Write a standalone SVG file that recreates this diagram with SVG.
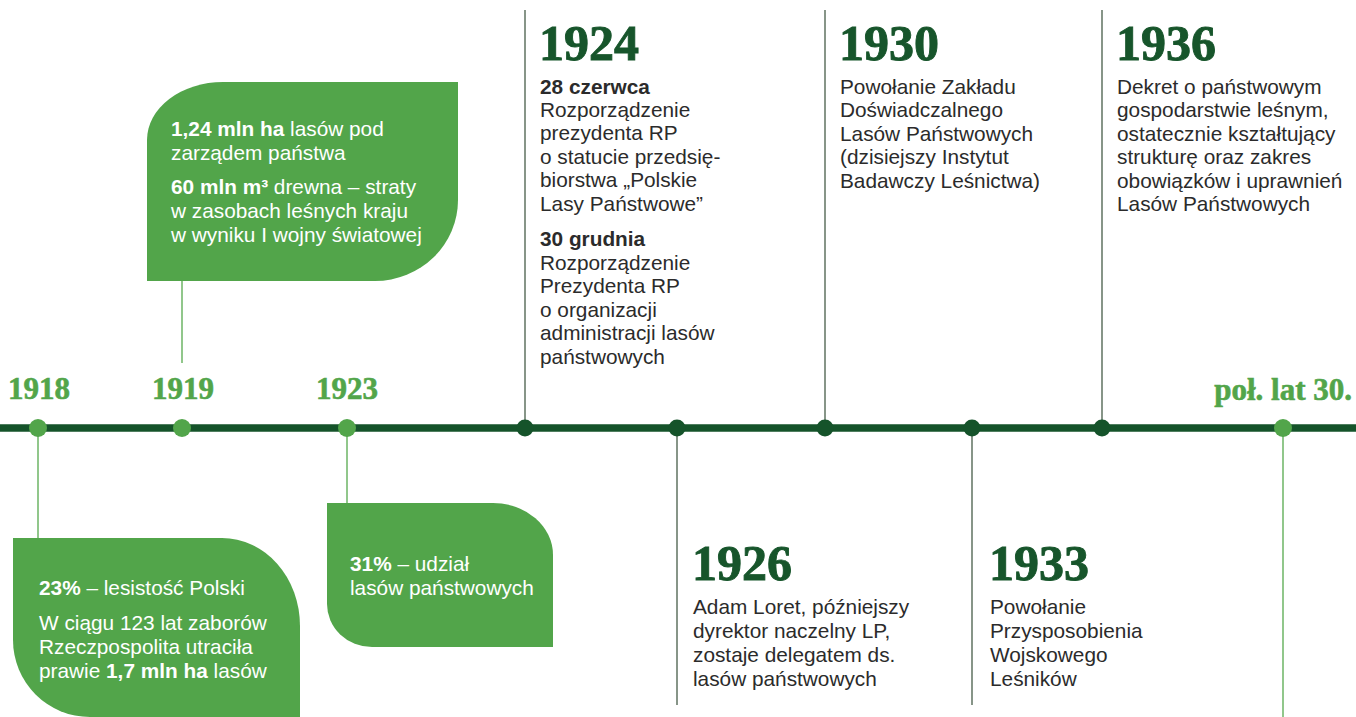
<svg xmlns="http://www.w3.org/2000/svg" width="1356" height="717" viewBox="0 0 1356 717">
<style>
.yr{font-family:"Liberation Serif","DejaVu Serif",serif;font-weight:bold}
.ys{font-size:31px;fill:#52a54a;stroke:#52a54a;stroke-width:0.6}
.yb{font-size:50px;fill:#17552b;stroke:#17552b;stroke-width:0.9}
.t{font-family:"Liberation Sans","Open Sans",sans-serif;font-size:20.8px;fill:#2b2b2b}
.w{font-family:"Liberation Sans","Open Sans",sans-serif;font-size:20.8px;fill:#ffffff}
.b{font-weight:bold}
.box{fill:#52a54a}
.ld{stroke:#5f7261;stroke-width:1.5;fill:none}
.ll{stroke:#6cb464;stroke-width:1.5;fill:none}
.dl{fill:#52a54a}
.dd{fill:#15532a}
</style>
<rect width="1356" height="717" fill="#ffffff"/>
<g id="connectors">
<line class="ll" x1="38" y1="428" x2="38" y2="538"/>
<line class="ll" x1="182" y1="281" x2="182" y2="363"/>
<line class="ll" x1="347" y1="428" x2="347" y2="503"/>
<line class="ld" x1="525" y1="10" x2="525" y2="428"/>
<line class="ld" x1="677" y1="428" x2="677" y2="705"/>
<line class="ld" x1="825" y1="10" x2="825" y2="428"/>
<line class="ld" x1="972" y1="428" x2="972" y2="705"/>
<line class="ld" x1="1102" y1="10" x2="1102" y2="428"/>
<line class="ll" x1="1283" y1="428" x2="1283" y2="717"/>
<line x1="0" y1="428" x2="1356" y2="428" stroke="#15532a" stroke-width="7.5"/>
</g>
<g id="n1918">
<circle class="dl" cx="38" cy="428" r="9"/>
<text class="yr ys" x="8" y="399">1918</text>
<path class="box" d="M13,538 H222 A78,88 0 0 1 300,626 V717 H90 A77,77 0 0 1 13,640 Z"/>
<text class="w" x="39" y="595"><tspan class="b">23%</tspan> – lesistość Polski</text>
<text class="w" x="39" y="630">W ciągu 123 lat zaborów</text>
<text class="w" x="39" y="654">Rzeczpospolita utraciła</text>
<text class="w" x="39" y="678">prawie <tspan class="b">1,7 mln ha</tspan> lasów</text>
</g>
<g id="n1919">
<circle class="dl" cx="182" cy="428" r="9"/>
<text class="yr ys" x="152" y="399">1919</text>
<path class="box" d="M147,281 V140 A76,58 0 0 1 223,82 H458 V200 A83,81 0 0 1 375,281 Z"/>
<text class="w" x="171" y="136"><tspan class="b">1,24 mln ha</tspan> lasów pod</text>
<text class="w" x="171" y="160">zarządem państwa</text>
<text class="w" x="171" y="194"><tspan class="b">60 mln m³</tspan> drewna – straty</text>
<text class="w" x="171" y="218">w zasobach leśnych kraju</text>
<text class="w" x="171" y="242">w wyniku I wojny światowej</text>
</g>
<g id="n1923">
<circle class="dl" cx="347" cy="428" r="9"/>
<text class="yr ys" x="316" y="399">1923</text>
<path class="box" d="M327,503 H493 A60,52 0 0 1 553,555 V647 H372 A45,43 0 0 1 327,604 Z"/>
<text class="w" x="350" y="571"><tspan class="b">31%</tspan> – udział</text>
<text class="w" x="350" y="595">lasów państwowych</text>
</g>
<g id="n1924">
<circle class="dd" cx="525" cy="428" r="8.5"/>
<text class="yr yb" x="539" y="60">1924</text>
<text class="t" x="540" y="94"><tspan class="b">28 czerwca</tspan></text>
<text class="t" x="540" y="117">Rozporządzenie</text>
<text class="t" x="540" y="140">prezydenta RP</text>
<text class="t" x="540" y="164">o statucie przedsię-</text>
<text class="t" x="540" y="187">biorstwa „Polskie</text>
<text class="t" x="540" y="211">Lasy Państwowe”</text>
<text class="t" x="540" y="246"><tspan class="b">30 grudnia</tspan></text>
<text class="t" x="540" y="270">Rozporządzenie</text>
<text class="t" x="540" y="293">Prezydenta RP</text>
<text class="t" x="540" y="317">o organizacji</text>
<text class="t" x="540" y="340">administracji lasów</text>
<text class="t" x="540" y="364">państwowych</text>
</g>
<g id="n1926">
<circle class="dd" cx="677" cy="428" r="8.5"/>
<text class="yr yb" x="692" y="580">1926</text>
<text class="t" x="693" y="614">Adam Loret, późniejszy</text>
<text class="t" x="693" y="638">dyrektor naczelny LP,</text>
<text class="t" x="693" y="662">zostaje delegatem ds.</text>
<text class="t" x="693" y="686">lasów państwowych</text>
</g>
<g id="n1930">
<circle class="dd" cx="825" cy="428" r="8.5"/>
<text class="yr yb" x="839" y="60">1930</text>
<text class="t" x="840" y="94">Powołanie Zakładu</text>
<text class="t" x="840" y="117">Doświadczalnego</text>
<text class="t" x="840" y="141">Lasów Państwowych</text>
<text class="t" x="840" y="164">(dzisiejszy Instytut</text>
<text class="t" x="840" y="188">Badawczy Leśnictwa)</text>
</g>
<g id="n1933">
<circle class="dd" cx="972" cy="428" r="8.5"/>
<text class="yr yb" x="989" y="580">1933</text>
<text class="t" x="990" y="614">Powołanie</text>
<text class="t" x="990" y="638">Przysposobienia</text>
<text class="t" x="990" y="662">Wojskowego</text>
<text class="t" x="990" y="686">Leśników</text>
</g>
<g id="n1936">
<circle class="dd" cx="1102" cy="428" r="8.5"/>
<text class="yr yb" x="1116" y="60">1936</text>
<text class="t" x="1117" y="94">Dekret o państwowym</text>
<text class="t" x="1117" y="117">gospodarstwie leśnym,</text>
<text class="t" x="1117" y="141">ostatecznie kształtujący</text>
<text class="t" x="1117" y="164">strukturę oraz zakres</text>
<text class="t" x="1117" y="188">obowiązków i uprawnień</text>
<text class="t" x="1117" y="211">Lasów Państwowych</text>
</g>
<g id="n1930s">
<circle class="dl" cx="1283" cy="428" r="9"/>
<text class="yr ys" x="1352" y="400" text-anchor="end">poł. lat 30.</text>
</g>
</svg>
